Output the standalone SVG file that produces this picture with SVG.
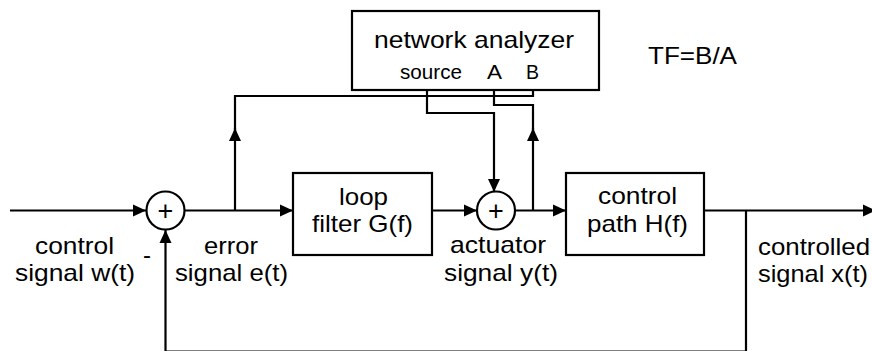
<svg xmlns="http://www.w3.org/2000/svg" width="872" height="351" viewBox="0 0 872 351">
<style>
.box{fill:#fff;stroke:#000;stroke-width:2.2}
.sum{fill:#fff;stroke:#000;stroke-width:2.2}
.w{fill:none;stroke:#000;stroke-width:2.2}
.t{font-family:"Liberation Sans",Arial,sans-serif;font-size:24px;fill:#000}
.s{font-family:"Liberation Sans",Arial,sans-serif;font-size:21px;fill:#000}
.p{font-family:"Liberation Sans",Arial,sans-serif;font-size:27px;fill:#000;text-anchor:middle}
</style>
<defs>
<marker id="ah" markerUnits="userSpaceOnUse" markerWidth="14" markerHeight="14" refX="13" refY="6" orient="auto" viewBox="0 0 14 12">
<path d="M0,0 L13,6 L0,12 Z" fill="#000"/>
</marker>
</defs>
<g id="connectors">
<path class="w" d="M10,210.5 H146" marker-end="url(#ah)"/>
<path class="w" d="M184.5,210.5 H293" marker-end="url(#ah)"/>
<path class="w" d="M235,210.5 V128" marker-end="url(#ah)"/>
<path class="w" d="M235,132 V96 H533 V90"/>
<path class="w" d="M427,90 V113 H494 V192" marker-end="url(#ah)"/>
<path class="w" d="M533,210.5 V128" marker-end="url(#ah)"/>
<path class="w" d="M494,90 V105 H533 V132"/>
<path class="w" d="M432,210.5 H477" marker-end="url(#ah)"/>
<path class="w" d="M515,210.5 H566" marker-end="url(#ah)"/>
<path class="w" d="M704,210.5 H876" marker-end="url(#ah)"/>
<path class="w" d="M746,210.5 V351.7 H165.5 V230" marker-end="url(#ah)"/>
</g>
<g id="network-analyzer">
<rect class="box" x="352" y="11" width="247" height="79"/>
<text class="t" x="374" y="48" textLength="200" lengthAdjust="spacingAndGlyphs">network analyzer</text>
<text class="s" x="400" y="79" textLength="62" lengthAdjust="spacingAndGlyphs">source</text>
<text class="s" x="487" y="79" textLength="15" lengthAdjust="spacingAndGlyphs">A</text>
<text class="s" x="526" y="79" textLength="13" lengthAdjust="spacingAndGlyphs">B</text>
</g>
<g id="tf-label">
<text class="t" x="648" y="64" textLength="89" lengthAdjust="spacingAndGlyphs">TF=B/A</text>
</g>
<g id="sum1">
<circle class="sum" cx="165.5" cy="210.5" r="19"/>
<text class="p" x="165.5" y="220">+</text>
</g>
<g id="sum2">
<circle class="sum" cx="496" cy="210.5" r="19"/>
<text class="p" x="496" y="220">+</text>
</g>
<g id="loop-filter">
<rect class="box" x="293" y="173" width="139" height="82"/>
<text class="t" x="339" y="205" textLength="49" lengthAdjust="spacingAndGlyphs">loop</text>
<text class="t" x="312" y="232" textLength="101" lengthAdjust="spacingAndGlyphs">filter G(f)</text>
</g>
<g id="control-path">
<rect class="box" x="566" y="173" width="138" height="82"/>
<text class="t" x="598" y="204" textLength="79" lengthAdjust="spacingAndGlyphs">control</text>
<text class="t" x="587" y="232" textLength="101" lengthAdjust="spacingAndGlyphs">path H(f)</text>
</g>
<g id="labels">
<text class="t" x="35" y="254" textLength="79" lengthAdjust="spacingAndGlyphs">control</text>
<text class="t" x="15" y="281" textLength="120" lengthAdjust="spacingAndGlyphs">signal w(t)</text>
<text class="t" x="143" y="263">-</text>
<text class="t" x="204" y="254" textLength="54" lengthAdjust="spacingAndGlyphs">error</text>
<text class="t" x="175" y="281" textLength="113" lengthAdjust="spacingAndGlyphs">signal e(t)</text>
<text class="t" x="450" y="253" textLength="96" lengthAdjust="spacingAndGlyphs">actuator</text>
<text class="t" x="444" y="281" textLength="114" lengthAdjust="spacingAndGlyphs">signal y(t)</text>
<text class="t" x="758" y="255" textLength="112" lengthAdjust="spacingAndGlyphs">controlled</text>
<text class="t" x="758" y="282" textLength="110" lengthAdjust="spacingAndGlyphs">signal x(t)</text>
</g>
</svg>
